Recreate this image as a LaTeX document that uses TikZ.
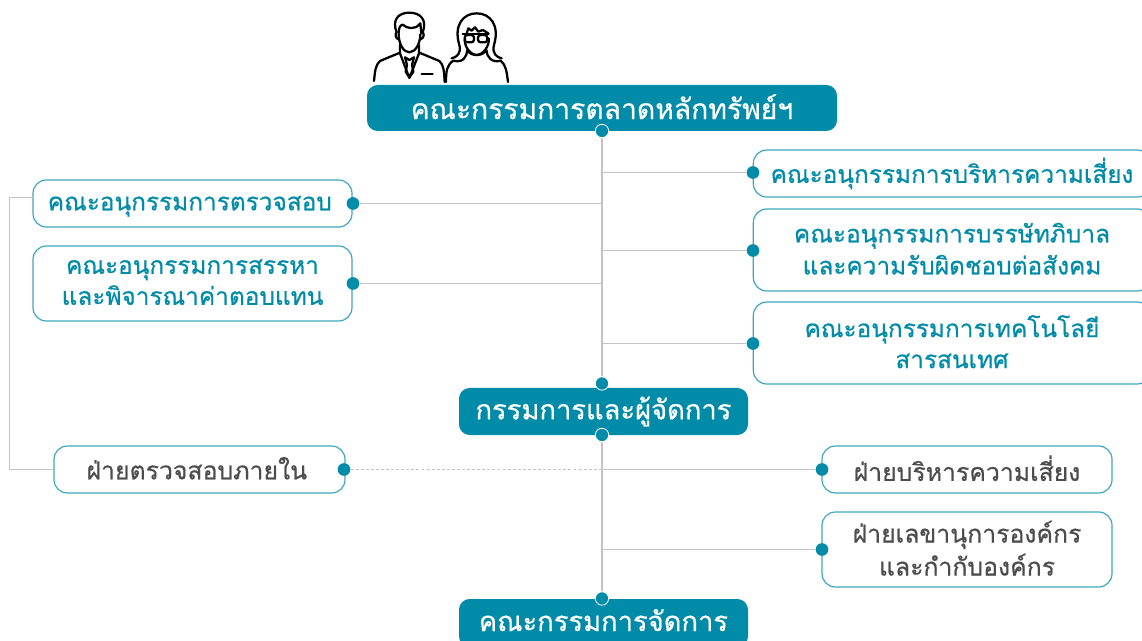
\documentclass[tikz,border=0pt]{standalone}
\usepackage{fontspec}
\newfontfamily\thaifont[Script=Thai,FakeBold=0.6]{Loma}
\definecolor{teal1}{HTML}{008BA8}
\definecolor{tealb}{HTML}{3FA6BE}
\definecolor{greyl}{HTML}{C4C4C4}
\definecolor{greyt}{HTML}{4D4D4D}
\tikzset{
 txt/.style={align=center,inner sep=0pt,
   execute at begin node={\rule{0pt}{15pt}},execute at end node={\rule[-2pt]{0pt}{2pt}}},
 box/.style={txt,font=\thaifont\fontsize{18.3}{23.25}\selectfont,draw=tealb,line width=0.9pt,rounded corners=10pt,fill=white,text=teal1},
 greybox/.style={box,font=\thaifont\fontsize{18.6}{23.25}\selectfont,text=greyt},
 head/.style={txt,fill=teal1,rounded corners=8pt,text=white,
   execute at begin node={\rule{0pt}{17pt}},execute at end node={\rule[-2pt]{0pt}{2pt}}},
 headbig/.style={head,font=\thaifont\fontsize{21.2}{24}\selectfont},
 headmid/.style={head,font=\thaifont\fontsize{20.5}{24}\selectfont},
 dot/.style={circle,fill=teal1,inner sep=0pt,minimum size=9.5pt},
 hdot/.style={dot,draw=white,line width=0.6pt,minimum size=10pt},
 conn/.style={draw=greyl,line width=0.75pt},
 trunk/.style={draw=greyl,line width=1.5pt},
 icon/.style={line width=1.7pt,line cap=round,line join=round,draw=black}
}
\begin{document}
\begin{tikzpicture}[x=0.75pt,y=-0.75pt]
\clip (0,0) rectangle (1142,641);
% boxes
\node[headbig,minimum width=352.5pt,minimum height=34.5pt] (top) at (602,108) {คณะกรรมการตลาดหลักทรัพย์ฯ};
\node[headmid,minimum width=216.75pt,minimum height=35.25pt] (mid) at (603.5,411.5) {กรรมการและผู้จัดการ};
\node[headmid,minimum width=216.75pt,minimum height=36pt,execute at end node={\rule[-5pt]{0pt}{5pt}}] (bot) at (603.5,623) {คณะกรรมการจัดการ};
\node[box,minimum width=239.25pt,minimum height=35.25pt] (la) at (192.5,203.5) {คณะอนุกรรมการตรวจสอบ\kern4pt};
\node[box,minimum width=239.25pt,minimum height=56.25pt] (lb) at (192.5,283.5) {คณะอนุกรรมการสรรหา\\และพิจารณาค่าตอบแทน};
\node[box,minimum width=298pt,minimum height=35.25pt] (ra) at (952,173.5) {คณะอนุกรรมการบริหารความเสี่ยง};
\node[box,minimum width=298pt,minimum height=61.5pt] (rb) at (952,250) {คณะอนุกรรมการบรรษัทภิบาล\\[0.75pt]และความรับผิดชอบต่อสังคม};
\node[box,minimum width=298pt,minimum height=61.5pt] (rc) at (952,343) {คณะอนุกรรมการเทคโนโลยี\\สารสนเทศ};
\node[greybox,minimum width=218.25pt,minimum height=35.25pt] (ia) at (199.5,469.5) {ฝ่ายตรวจสอบภายใน\kern4pt};
\node[greybox,minimum width=217.5pt,minimum height=35.25pt] (rm) at (967,469.5) {ฝ่ายบริหารความเสี่ยง};
\node[greybox,minimum width=217.5pt,minimum height=56.25pt] (sc) at (967,549.5) {ฝ่ายเลขานุการองค์กร\\[1.5pt]และกำกับองค์กร};
% junctions
\coordinate (j1) at (602,172.5);
\coordinate (j2) at (602,203.5);
\coordinate (j3) at (602,250.5);
\coordinate (j4) at (602,283.5);
\coordinate (j5) at (602,343.5);
\coordinate (j6) at (602,469.5);
\coordinate (j7) at (602,549.5);
\coordinate (c1) at (9.5,197.5);
\coordinate (c2) at (9.5,469.5);
\coordinate (c0) at (33,197.5);
% dots
\node[hdot] (dtop) at (602,131) {};
\node[hdot] (dmt) at (602,383.5) {};
\node[hdot] (dmb) at (602,435) {};
\node[hdot] (dbot) at (602,598.5) {};
\node[dot] (dla) at (353,203.5) {};
\node[dot] (dlb) at (353,283.5) {};
\node[dot] (dra) at (753,172.5) {};
\node[dot] (drb) at (753,250.5) {};
\node[dot] (drc) at (753,343.5) {};
\node[dot] (dia) at (344,469.5) {};
\node[dot] (drm) at (822,469.5) {};
\node[dot] (dsc) at (822,549.5) {};
% connectors
\draw[trunk] (dtop) -- (dmt);
\draw[trunk] (dmb) -- (dbot);
\draw[conn] (j1) -- (dra);
\draw[conn] (j2) -- (dla);
\draw[conn] (j3) -- (drb);
\draw[conn] (j4) -- (dlb);
\draw[conn] (j5) -- (drc);
\draw[conn,dash pattern=on 2.2pt off 1.6pt] (dia) -- (j6);
\draw[conn] (j6) -- (drm);
\draw[conn] (j7) -- (dsc);
\draw[conn] (c0) -- (c1) -- (c2) -- (ia.west);
% icons (coordinates in 1/3 pixel, relative to x=350)
\begin{scope}[x=0.25pt,y=-0.25pt,xshift=262.5pt,icon]
% man
\draw (72,243) .. controls (75,215) and (76,195) .. (90,183) -- (150,158);
\draw (284,246) .. controls (282,215) and (282,195) .. (268,183) -- (208,158);
\draw (150,135) -- (150,160) -- (178,234) -- (207,160) -- (207,135);
\draw (165,172) -- (178,180) -- (192,172) -- (186,195) -- (190,215) -- (178,232) -- (167,215) -- (171,195) -- cycle;
\draw (215,222) -- (248,222);
\draw (146,103) .. controls (146,130) and (160,157) .. (178,157) .. controls (196,157) and (211,130) .. (211,103);
\draw (146,118) .. controls (135,115) and (135,100) .. (140,97) .. controls (125,60) and (145,38) .. (178,38) .. controls (212,38) and (232,60) .. (218,97) .. controls (223,100) and (223,115) .. (211,118);
\draw (146,100) .. controls (146,85) and (150,75) .. (158,74) .. controls (170,85) and (195,92) .. (211,70) -- (214,100);
% woman
\draw (288,246) .. controls (288,215) and (290,195) .. (310,182) .. controls (340,190) and (350,170) .. (352,150);
\draw (474,246) .. controls (470,215) and (468,195) .. (452,182) .. controls (425,190) and (410,170) .. (409,150);
\draw (352,150) .. controls (360,170) and (400,170) .. (409,150);
\draw (345,115) .. controls (340,135) and (360,165) .. (380,165) .. controls (400,165) and (420,135) .. (416,115);
\draw (305,175) .. controls (320,172) and (335,160) .. (328,135) .. controls (310,75) and (340,40) .. (380,40) .. controls (420,40) and (450,75) .. (432,135) .. controls (425,160) and (440,172) .. (455,175);
\draw (338,103) -- (416,103);
\draw[rounded corners=2pt] (344,105) rectangle (372,127);
\draw[rounded corners=2pt] (384,105) rectangle (412,127);
\draw (350,100) -- (355,85) -- (365,92) -- (375,82) -- (385,95) -- (398,90) -- (415,100);
\end{scope}
\end{tikzpicture}
\end{document}
